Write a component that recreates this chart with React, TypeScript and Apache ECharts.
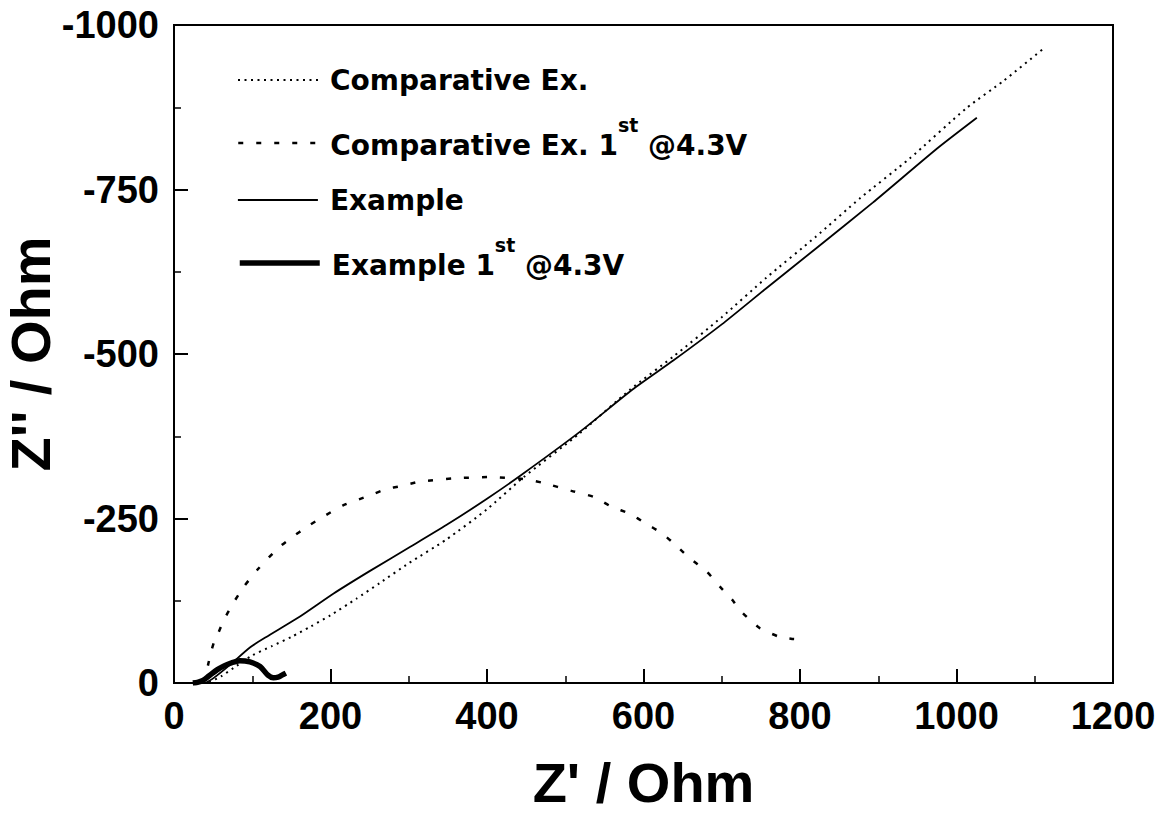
import React, { useEffect, useRef } from "react";
import * as echarts from "echarts";

// ---- data (Z' , Z'' in Ohm) ----
const seriesNames = [
  "Comparative Ex.",
  "Comparative Ex. 1st @4.3V",
  "Example",
  "Example 1st @4.3V",
];

const compZre = [45, 60, 80, 100, 125, 150, 175, 200, 233, 263, 300, 348, 400, 446, 519, 583, 638, 700, 757, 820, 877, 940, 1013, 1060, 1110];
const compZim = [-1, -10, -26, -42, -56, -70, -86, -103, -128, -152, -182, -218, -264, -312, -380, -446, -496, -556, -616, -678, -737, -797, -874, -915, -963];

const comp1Zre = [37, 40, 44, 48, 52, 57, 63, 74, 89, 108, 133, 148, 172, 194, 216, 250, 272, 289, 314, 357, 404, 446, 472, 508, 536, 559, 583, 602, 623, 636, 657, 681, 698, 713, 723, 736, 749, 774, 790, 809];
const comp1Zim = [0, -9, -30, -50, -65, -77, -94, -118, -146, -174, -205, -219, -239, -255, -270, -285, -295, -299, -306, -311, -313, -310, -304, -292, -283, -268, -257, -243, -228, -215, -192, -169, -146, -127, -111, -96, -83, -70, -67, -66];

const exZre = [40, 50, 70, 97, 118, 161, 204, 250, 302, 348, 400, 446, 519, 586, 638, 700, 757, 820, 893, 976, 1026];
const exZim = [0, -7, -26, -54, -70, -101, -136, -170, -207, -240, -280, -318, -382, -446, -490, -545, -600, -660, -730, -813, -859];

const ex1Zre = [24, 30, 37, 45, 55, 64, 72, 84, 97, 110, 120, 127, 133, 138, 143];
const ex1Zim = [0, -1, -4, -11, -20, -26, -30, -34, -32, -25, -12, -8, -9, -12, -15];

const xMin = 0, xMax = 1200, xStep = 200;
const yMin = -1000, yMax = 0, yStep = 250;

const xTitle = "Z' / Ohm";
const yTitle = "Z'' / Ohm";

const pairs = (xs: number[], ys: number[]) => xs.map((x, i) => [x, ys[i]]);

const AX_FONT = "Liberation Sans";
const LEG_FONT = "DejaVu Sans";

function legendFor(name: string, top: number, width: number) {
  return {
    data: [name],
    left: 237,
    top,
    padding: 0,
    orient: "vertical",
    itemWidth: 80,
    itemHeight: 14,
    selectedMode: false,
    itemStyle: { opacity: 0, borderWidth: 0 },
    lineStyle: { width },
    formatter: (n: string) => {
      const m = n.match(/^(.*) 1st (.*)$/);
      if (m) return `{n|${m[1]} 1}{s|st}{g| ${m[2]}}`;
      return `{p|${n}}`;
    },
    textStyle: {
      color: "#000",
      rich: {
        p: { fontFamily: LEG_FONT, fontWeight: "bold", fontSize: 28, lineHeight: 32, color: "#000", padding: [0, 0, 0, 7] },
        n: { fontFamily: LEG_FONT, fontWeight: "bold", fontSize: 28, lineHeight: 32, color: "#000", padding: [0, 0, 0, 7], verticalAlign: "bottom" },
        g: { fontFamily: LEG_FONT, fontWeight: "bold", fontSize: 28, lineHeight: 32, color: "#000", verticalAlign: "bottom" },
        s: { fontFamily: LEG_FONT, fontWeight: "bold", fontSize: 19, lineHeight: 19, color: "#000", padding: [0, 0, 25, 0], verticalAlign: "bottom" },
      },
    },
  };
}

const axisCommon = {
  type: "value",
  nameLocation: "middle",
  nameMoveOverlap: false,
  nameTextStyle: { fontFamily: AX_FONT, fontWeight: "bold", fontSize: 56, color: "#000" },
  axisLine: { show: true, lineStyle: { color: "#000", width: 2 } },
  axisTick: { show: true, inside: true, length: 14, lineStyle: { color: "#000", width: 2 } },
  minorTick: { show: true, splitNumber: 2, length: 7, lineStyle: { color: "#000", width: 1.5 } },
  splitLine: { show: false },
};

export default function App() {
  const ref = useRef<HTMLDivElement>(null);
  useEffect(() => {
    if (!ref.current) return;
    const chart = echarts.init(ref.current, undefined, { renderer: "svg" });
    chart.setOption({
      animation: false,
      backgroundColor: "#fff",
      grid: {
        left: 174, right: 46, top: 25, bottom: 130,
        containLabel: false, outerBoundsMode: "none",
        show: true, borderColor: "#000", borderWidth: 2, backgroundColor: "transparent",
      },
      legend: [
        legendFor(seriesNames[0], 66, 2),
        legendFor(seriesNames[1], 115, 2.5),
        legendFor(seriesNames[2], 186, 1.8),
        legendFor(seriesNames[3], 235, 5.5),
      ],
      xAxis: {
        ...axisCommon,
        min: xMin,
        max: xMax,
        interval: xStep,
        name: xTitle,
        nameGap: 71,
        axisLabel: { fontFamily: AX_FONT, fontWeight: "bold", fontSize: 38, color: "#000", margin: 14, formatter: (v: number) => String(v) },
      },
      yAxis: {
        ...axisCommon,
        min: yMin,
        max: yMax,
        interval: yStep,
        inverse: true,
        name: yTitle,
        nameGap: 116,
        axisLabel: { fontFamily: AX_FONT, fontWeight: "bold", fontSize: 38, color: "#000", margin: 15, formatter: (v: number) => String(v) },
      },
      series: [
        {
          name: seriesNames[0],
          type: "line",
          data: pairs(compZre, compZim),
          symbol: "none",
          smooth: 0.2,
          color: "#000",
          lineStyle: { color: "#000", width: 2, type: [2, 4.5] },
          z: 2,
        },
        {
          name: seriesNames[1],
          type: "line",
          data: pairs(comp1Zre, comp1Zim),
          symbol: "none",
          smooth: 0.2,
          color: "#000",
          lineStyle: { color: "#000", width: 2.5, type: [5, 13] },
          z: 2,
        },
        {
          name: seriesNames[2],
          type: "line",
          data: pairs(exZre, exZim),
          symbol: "none",
          smooth: 0.2,
          color: "#000",
          lineStyle: { color: "#000", width: 1.8, type: "solid" },
          z: 3,
        },
        {
          name: seriesNames[3],
          type: "line",
          data: pairs(ex1Zre, ex1Zim),
          symbol: "none",
          smooth: 0.3,
          color: "#000",
          lineStyle: { color: "#000", width: 5.5, type: "solid" },
          z: 4,
        },
      ],
    });
    return () => chart.dispose();
  }, []);
  return (
    <div
      ref={ref}
      style={{ position: "fixed", left: 0, top: 0, width: 1159, height: 813, background: "#fff" }}
    />
  );
}
